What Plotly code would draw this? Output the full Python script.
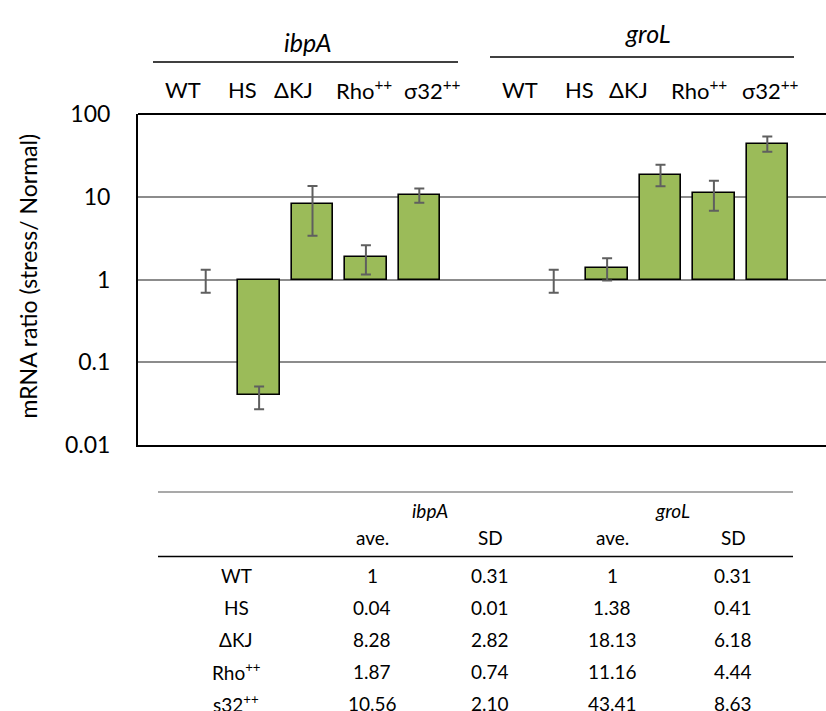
import plotly.graph_objects as go

# ---------------- data ----------------
strains = ["WT", "HS", "ΔKJ", "Rho<sup>++</sup>", "σ32<sup>++</sup>"]
row_labels = ["WT", "HS", "ΔKJ", "Rho<sup>++</sup>", "s32<sup>++</sup>"]
genes = ["ibpA", "groL"]

ibpA_ave = [1, 0.04, 8.28, 1.87, 10.56]
ibpA_sd = [0.31, 0.01, 2.82, 0.74, 2.10]
groL_ave = [1, 1.38, 18.13, 11.16, 43.41]
groL_sd = [0.31, 0.41, 6.18, 4.44, 8.63]

# error bar extents as drawn in the chart
ibpA_err_up = [0.31, 0.011, 5.2, 0.73, 2.0]
ibpA_err_down = [0.31, 0.013, 4.9, 0.72, 2.1]
groL_err_up = [0.31, 0.43, 6.2, 4.5, 10.0]
groL_err_down = [0.31, 0.41, 4.7, 4.4, 8.5]

y_tickvals = [0.01, 0.1, 1, 10, 100]
y_ticktext = ["0.01", "0.1", "1", "10", "100"]
y_title = "mRNA ratio (stress/ Normal)"

# ---------------- layout helpers ----------------
W, H = 826, 711
L, R, T, B = 138, 0, 114, 266
PW, PH = W - L - R, H - T - B
FONT = "Lato, 'Open Sans', sans-serif"
BAR_COLOR = "#9BBB59"
ERR_COLOR = "#5f5f5f"

def px(x):
    return (x - L) / PW

def py(y):
    return (H - B - y) / PH

group_offset = [0.0, 6.517]
x_range = [-1.268, 11.616]

fig = go.Figure()

for g, (ave, up, dn) in enumerate([(ibpA_ave, ibpA_err_up, ibpA_err_down),
                                    (groL_ave, groL_err_up, groL_err_down)]):
    xs = [i + group_offset[g] for i in range(len(ave))]
    fig.add_trace(go.Bar(
        x=xs, y=[v - 1 for v in ave], base=[1] * len(ave),
        width=0.773,
        marker=dict(color=BAR_COLOR,
                    line=dict(color="black", width=[0 if v == 1 else 1.6 for v in ave])),
        showlegend=False, hoverinfo="skip",
    ))
    fig.add_trace(go.Scatter(
        x=xs, y=ave, mode="markers",
        marker=dict(size=1, color="rgba(0,0,0,0)"),
        error_y=dict(type="data", symmetric=False, array=up, arrayminus=dn,
                     color=ERR_COLOR, thickness=2, width=5),
        showlegend=False, hoverinfo="skip",
    ))

annotations = []

def ann(text, x, y, font, **kw):
    d = dict(text=text, xref="paper", yref="paper", x=px(x), y=py(y),
             xanchor="center", yanchor="middle", showarrow=False, font=font)
    d.update(kw)
    annotations.append(d)

# y-axis title
ann(y_title, 27, 276.5, dict(size=23, color="black", family=FONT), textangle=-90)

# top gene titles and category labels
gene_title_pos = [(308, 42), (648, 33)]
cat_label_x = [[183, 242, 293, 364, 432], [520, 579, 628, 699, 770]]
for g, gene in enumerate(genes):
    gx, gy = gene_title_pos[g]
    ann(f"<i>{gene}</i>", gx, gy, dict(size=25, color="black", family=FONT))
    for i, s in enumerate(strains):
        ann(s, cat_label_x[g][i], 89, dict(size=22, color="black", family=FONT))

# table
TF = dict(size=19, color="black", family=FONT)
col_x = [372, 490, 612, 733]
row_y = [575, 607, 639, 671, 703]
ann("<i>ibpA</i>", 430, 511, TF)
ann("<i>groL</i>", 672, 511, TF)
for cx, h in zip(col_x, ["ave.", "SD", "ave.", "SD"]):
    ann(h, cx, 537, TF)

def fmt_ave(v):
    return "1" if v == 1 else f"{v:.2f}"

for r, lab in enumerate(row_labels):
    ann(lab, 236, row_y[r], TF)
    vals = [fmt_ave(ibpA_ave[r]), f"{ibpA_sd[r]:.2f}", fmt_ave(groL_ave[r]), f"{groL_sd[r]:.2f}"]
    for cx, t in zip(col_x, vals):
        ann(t, cx, row_y[r], TF)

shapes = [
    # top border of plot
    dict(type="line", xref="paper", yref="paper", x0=0, x1=1.01, y0=1, y1=1,
         line=dict(color="black", width=2)),
    # lines under gene titles
    dict(type="line", xref="paper", yref="paper", x0=px(153), x1=px(458), y0=py(62), y1=py(62),
         line=dict(color="black", width=1.5)),
    dict(type="line", xref="paper", yref="paper", x0=px(490), x1=px(794), y0=py(57), y1=py(57),
         line=dict(color="black", width=1.5)),
    # table lines
    dict(type="line", xref="paper", yref="paper", x0=px(158), x1=px(793), y0=py(492), y1=py(492),
         line=dict(color="#555555", width=1.2)),
    dict(type="line", xref="paper", yref="paper", x0=px(158), x1=px(793), y0=py(556.5), y1=py(556.5),
         line=dict(color="black", width=1.5)),
]

fig.update_layout(
    width=W, height=H,
    margin=dict(l=L, r=R, t=T, b=B, pad=0),
    paper_bgcolor="white", plot_bgcolor="white",
    font=dict(family=FONT, color="black"),
    bargap=0,
    annotations=annotations,
    shapes=shapes,
    xaxis=dict(range=x_range, showticklabels=False, ticks="", showgrid=False,
               zeroline=False, showline=True, linecolor="black", linewidth=2,
               fixedrange=True),
    yaxis=dict(type="log", range=[-2, 2], tickvals=y_tickvals, ticktext=y_ticktext,
               showgrid=True, gridcolor="#8c8c8c", gridwidth=1.5,
               zeroline=False, showline=True, linecolor="black", linewidth=2,
               ticks="", ticklabelstandoff=21,
               tickfont=dict(size=23, color="black", family=FONT),
               fixedrange=True),
)

fig.write_html("out.html", config={"displayModeBar": False},
               post_script="document.body.style.margin='0';document.body.style.overflow='hidden';")
